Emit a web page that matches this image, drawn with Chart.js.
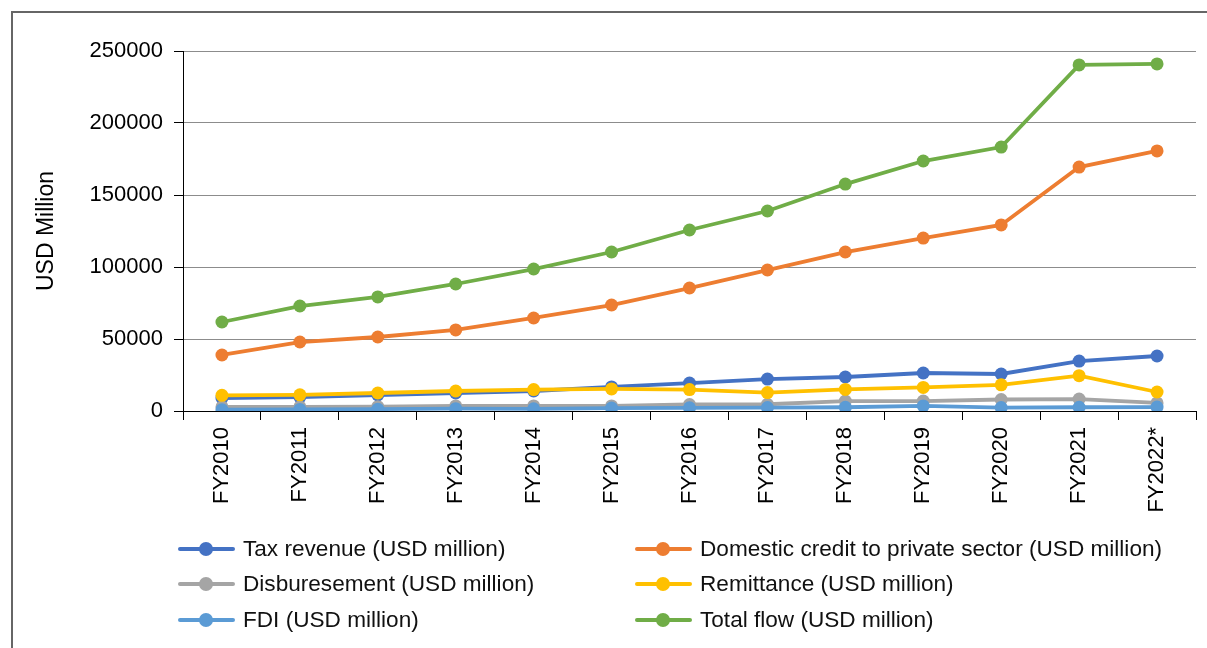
<!DOCTYPE html>
<html>
<head>
<meta charset="utf-8">
<title>Financial flows</title>
<script src="https://cdn.jsdelivr.net/npm/chart.js@4/dist/chart.umd.min.js"></script>
<style>
  html, body { margin: 0; padding: 0; background: #fff; overflow: hidden; }
  #wrap { position: relative; width: 1207px; height: 648px; overflow: hidden; font-family: "Liberation Sans", Arial, sans-serif; }
  #frame { position: absolute; left: 11px; top: 11px; width: 1300px; height: 700px; border: 2px solid #666; box-sizing: border-box; }
  #chart { position: absolute; left: 0; top: 0; }
  #legend { position: absolute; left: 178px; top: 531px; display: grid; grid-template-columns: 457px 520px; row-gap: 0; }
  .item { display: flex; align-items: center; height: 35.5px; font-size: 22.6px; color: #111; white-space: nowrap; }
  .swatch { position: relative; width: 57px; height: 14px; margin-right: 8px; flex: none; }
  .swatch .ln { position: absolute; left: 0; right: 0; top: 5px; height: 4px; border-radius: 2px; }
  .swatch .dt { position: absolute; left: 21px; top: 0; width: 14px; height: 14px; border-radius: 50%; }
</style>
</head>
<body>
<div id="wrap">
  <div id="frame"></div>
  <canvas id="chart" width="1207" height="648"></canvas>
  <div id="legend"></div>
</div>
<script>
// Fiscal years on the x axis
const years = ['FY2010', 'FY2011', 'FY2012', 'FY2013', 'FY2014', 'FY2015', 'FY2016',
               'FY2017', 'FY2018', 'FY2019', 'FY2020', 'FY2021', 'FY2022*'];

// Series values, USD million
const taxRevenue     = [9000, 9700, 11100, 12500, 13900, 16700, 19400, 22200, 23600, 26400, 25700, 34700, 38200];
const domesticCredit = [38900, 47900, 51400, 56300, 64600, 73600, 85400, 97900, 110400, 120100, 129200, 169400, 180600];
const disbursement   = [2800, 2800, 3000, 3500, 3500, 3500, 4500, 4700, 6900, 6900, 8000, 8300, 5600];
const remittance     = [10900, 11200, 12500, 13900, 14900, 15300, 14900, 12800, 15000, 16400, 18200, 24500, 13200];
const fdi            = [900, 1100, 1300, 1600, 1500, 2000, 2200, 2400, 2600, 3500, 2400, 2600, 2700];
const totalFlow      = [61800, 72900, 79200, 88200, 98600, 110400, 125700, 138900, 157600, 173600, 183300, 240300, 241000];

// Y axis ticks
const yTicks = [0, 50000, 100000, 150000, 200000, 250000];

const seriesNames = [
  'Tax revenue (USD million)',
  'Domestic credit to private sector (USD million)',
  'Disburesement (USD million)',
  'Remittance (USD million)',
  'FDI (USD million)',
  'Total flow (USD million)'
];
const seriesData = [taxRevenue, domesticCredit, disbursement, remittance, fdi, totalFlow];
const seriesColors = ['#4472C4', '#ED7D31', '#A5A5A5', '#FFC000', '#5B9BD5', '#70AD47'];

const FONT = '"Liberation Sans", Arial, sans-serif';

const datasets = seriesNames.map((name, i) => ({
  label: name,
  data: seriesData[i],
  borderColor: seriesColors[i],
  backgroundColor: seriesColors[i],
  borderWidth: 3.8,
  pointRadius: 6.5,
  pointHoverRadius: 6.5,
  pointBorderWidth: 0,
  tension: 0,
  // later series sit on top of earlier ones
  order: seriesNames.length - i
}));

new Chart(document.getElementById('chart'), {
  type: 'line',
  data: { labels: years, datasets: datasets },
  options: {
    responsive: false,
    animation: false,
    layout: { padding: { left: 20, top: 51, right: 11, bottom: 100 } },
    plugins: { legend: { display: false }, tooltip: { enabled: false } },
    scales: {
      x: {
        offset: true,
        grid: { offset: true, drawOnChartArea: false, drawTicks: true, tickLength: 9, tickColor: '#000', tickWidth: 1 },
        border: { display: true, color: '#000', width: 1 },
        ticks: {
          color: '#000', font: { family: FONT, size: 22 },
          maxRotation: 90, minRotation: 90, padding: 7, autoSkip: false
        },
        afterFit: scale => { scale.height = 137; }
      },
      y: {
        min: 0,
        max: 250000,
        afterBuildTicks: scale => { scale.ticks = yTicks.map(v => ({ value: v })); },
        grid: { color: '#8c8c8c', lineWidth: 1, drawTicks: true, tickLength: 9, tickColor: '#000' },
        border: { display: true, color: '#000', width: 1 },
        ticks: { color: '#000', font: { family: FONT, size: 22 }, padding: 11, callback: v => String(v) },
        title: {
          display: true, text: 'USD Million', color: '#000',
          font: { family: FONT, size: 23 }, padding: { top: 13, bottom: 0 }
        },
        afterFit: scale => { scale.width = 163; }
      }
    }
  }
});

// Two-column legend below the plot
const legend = document.getElementById('legend');
seriesNames.forEach((name, i) => {
  const item = document.createElement('div');
  item.className = 'item';
  item.innerHTML = `<span class="swatch"><span class="ln" style="background:${seriesColors[i]}"></span>` +
    `<span class="dt" style="background:${seriesColors[i]}"></span></span><span>${name}</span>`;
  legend.appendChild(item);
});
</script>
</body>
</html>
